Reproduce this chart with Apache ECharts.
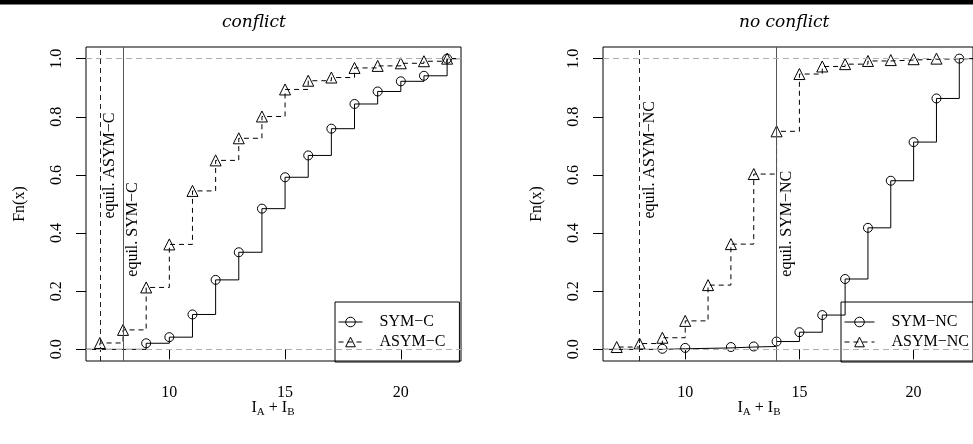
<!DOCTYPE html>
<html>
<head>
<meta charset="utf-8">
<script src="https://cdn.jsdelivr.net/npm/echarts@6/dist/echarts.min.js"></script>
<style>
html, body { margin: 0; padding: 0; background: #fff; }
#chart { width: 973px; height: 444px; }
</style>
</head>
<body>
<div id="chart"></div>
<script>
// panel texts
var panelTitles = ['conflict', 'no conflict'];
var seriesNames = [['SYM−C', 'ASYM−C'], ['SYM−NC', 'ASYM−NC']];
var equilLabels = [['equil. SYM−C', 'equil. ASYM−C'], ['equil. SYM−NC', 'equil. ASYM−NC']];

// ECDF values, conflict
var symCX = [9, 10, 11, 12, 13, 14, 15, 16, 17, 18, 19, 20, 21, 22];
var symCY = [0.021, 0.042, 0.12, 0.239, 0.334, 0.484, 0.592, 0.667, 0.759, 0.844, 0.887, 0.922, 0.941, 1.0];
var asymCX = [7, 8, 9, 10, 11, 12, 13, 14, 15, 16, 17, 18, 19, 20, 21, 22];
var asymCY = [0.022, 0.067, 0.213, 0.361, 0.545, 0.65, 0.726, 0.801, 0.894, 0.924, 0.935, 0.968, 0.975, 0.984, 0.991, 1.0];

// ECDF values, no conflict
var symNCX = [9, 10, 12, 13, 14, 15, 16, 17, 18, 19, 20, 21, 22];
var symNCY = [0.002, 0.005, 0.008, 0.01, 0.027, 0.059, 0.118, 0.242, 0.418, 0.58, 0.713, 0.863, 1.0];
var asymNCX = [7, 8, 9, 10, 11, 12, 13, 14, 15, 16, 17, 18, 19, 20, 21];
var asymNCY = [0.008, 0.02, 0.04, 0.098, 0.221, 0.362, 0.603, 0.75, 0.947, 0.973, 0.981, 0.992, 0.995, 0.998, 1.0];

// equilibrium lines [SYM, ASYM] and where their labels start
var equilX = [[8, 7], [14, 8]];
var equilLabelY = [0.25, 0.45];

// axes
var xMin = 6.4, xMax = 22.6, yMin = -0.04, yMax = 1.04;
var xTicks = [10, 15, 20];
var yTicks = [0, 0.2, 0.4, 0.6, 0.8, 1.0];

var serif = 'Liberation Serif';
var gridLeft = [86, 603];
var legendLeft = [335, 841];
var legendIconW = [24, 30];
var xTitleCenter = [273, 759];

function ecdfData(xs, ys) {
    var out = [{ value: [xMin, 0], symbol: 'none' }];
    for (var i = 0; i < xs.length; i++) {
        out.push([xs[i], ys[i]]);
    }
    out.push({ value: [xMax, 1], symbol: 'none' });
    return out;
}

function stepSeries(name, idx, xs, ys, dashed, markData) {
    return {
        name: name,
        type: 'line',
        xAxisIndex: idx,
        yAxisIndex: idx,
        step: 'end',
        data: ecdfData(xs, ys),
        symbol: dashed ? 'triangle' : 'circle',
        symbolSize: dashed ? 11 : 9,
        showAllSymbol: true,
        lineStyle: { color: '#000', width: 1, type: dashed ? [5, 4] : 'solid' },
        itemStyle: { color: 'rgba(0,0,0,0)', borderColor: '#000', borderWidth: 1 },
        emphasis: { disabled: true },
        markLine: {
            silent: true,
            symbol: ['none', 'none'],
            label: { show: false },
            data: markData
        }
    };
}

var grids = [], xAxes = [], yAxes = [], series = [], legends = [], titles = [];

for (var p = 0; p < 2; p++) {
    grids.push({
        left: gridLeft[p], top: 47, width: 375, height: 314,
        show: true, borderColor: '#000', borderWidth: 1
    });
    xAxes.push({
        type: 'value', gridIndex: p, min: xMin, max: xMax,
        axisLine: { show: false },
        splitLine: { show: false },
        axisTick: { show: true, length: 10, customValues: xTicks, lineStyle: { color: '#000' } },
        axisLabel: {
            customValues: xTicks, margin: 24,
            fontFamily: serif, fontSize: 16, color: '#000'
        }
    });
    yAxes.push({
        type: 'value', gridIndex: p, min: yMin, max: yMax,
        name: 'Fn(x)', nameLocation: 'middle', nameGap: 58,
        nameTextStyle: { fontFamily: serif, fontSize: 16, color: '#000' },
        axisLine: { show: false },
        splitLine: { show: false },
        axisTick: { show: true, length: 10, customValues: yTicks, lineStyle: { color: '#000' } },
        axisLabel: {
            customValues: yTicks, margin: 21, rotate: 90,
            fontFamily: serif, fontSize: 16, color: '#000',
            formatter: function (v) { return v.toFixed(1); }
        }
    });
    titles.push({
        text: panelTitles[p],
        left: gridLeft[p] + 136, top: 14, padding: 0,
        textStyle: { fontFamily: 'DejaVu Serif', fontStyle: 'italic', fontWeight: 'normal', fontSize: 17, color: '#000' }
    });
    legends.push({
        data: seriesNames[p],
        orient: 'vertical',
        left: legendLeft[p], top: 302,
        itemWidth: legendIconW[p], itemHeight: 12, itemGap: 4,
        padding: [12, 14, 12, 3],
        borderColor: '#000', borderWidth: 1,
        selectedMode: false,
        itemStyle: { color: 'rgba(0,0,0,0)', borderColor: '#000', borderWidth: 1 },
        lineStyle: { width: 1 },
        textStyle: { fontFamily: serif, fontSize: 16, color: '#000', padding: [0, 0, 0, 12] }
    });
}

var grayRule = { type: [6, 4], color: '#b0b0b0', width: 1 };

series.push(stepSeries(seriesNames[0][0], 0, symCX, symCY, false, [
    { xAxis: equilX[0][0], lineStyle: { color: '#555', type: 'solid', width: 1 } }
]));
series.push(stepSeries(seriesNames[0][1], 0, asymCX, asymCY, true, [
    { xAxis: equilX[0][1], lineStyle: { color: '#222', type: [5, 4], width: 1 } },
    { yAxis: 0, lineStyle: grayRule },
    { yAxis: 1, lineStyle: grayRule }
]));
series.push(stepSeries(seriesNames[1][0], 1, symNCX, symNCY, false, [
    { xAxis: equilX[1][0], lineStyle: { color: '#555', type: 'solid', width: 1 } }
]));
series.push(stepSeries(seriesNames[1][1], 1, asymNCX, asymNCY, true, [
    { xAxis: equilX[1][1], lineStyle: { color: '#222', type: [5, 4], width: 1 } },
    { yAxis: 0, lineStyle: grayRule },
    { yAxis: 1, lineStyle: grayRule }
]));

var myChart = echarts.init(document.getElementById('chart'), null, { renderer: 'canvas' });
myChart.setOption({
    backgroundColor: '#fff',
    animation: false,
    title: titles,
    grid: grids,
    xAxis: xAxes,
    yAxis: yAxes,
    legend: legends,
    series: series
});

// equilibrium labels and axis titles
var graphics = [{
    type: 'rect', shape: { x: 0, y: 0, width: 973, height: 4.5 },
    style: { fill: '#000' }
}];
for (var q = 0; q < 2; q++) {
    for (var k = 0; k < 2; k++) {
        var pt = myChart.convertToPixel({ xAxisIndex: q, yAxisIndex: q }, [equilX[q][k], equilLabelY[k]]);
        graphics.push({
            type: 'text', x: pt[0] + 10, y: pt[1], rotation: Math.PI / 2,
            style: {
                text: equilLabels[q][k], fontFamily: serif, fontSize: 16, fill: '#000',
                align: 'left', verticalAlign: 'middle'
            }
        });
    }
    graphics.push({
        type: 'text', x: xTitleCenter[q], y: 408,
        style: {
            text: '{m|I}{s|A}{m| + I}{s|B}',
            align: 'center', verticalAlign: 'middle',
            rich: {
                m: { fontFamily: serif, fontSize: 16, lineHeight: 20, verticalAlign: 'middle', fill: '#000' },
                s: { fontFamily: serif, fontSize: 11, lineHeight: 12, verticalAlign: 'bottom', fill: '#000' }
            }
        }
    });
}
myChart.setOption({ graphic: graphics });

window.addEventListener('resize', function () {
    myChart.resize();
});
</script>
</body>
</html>
